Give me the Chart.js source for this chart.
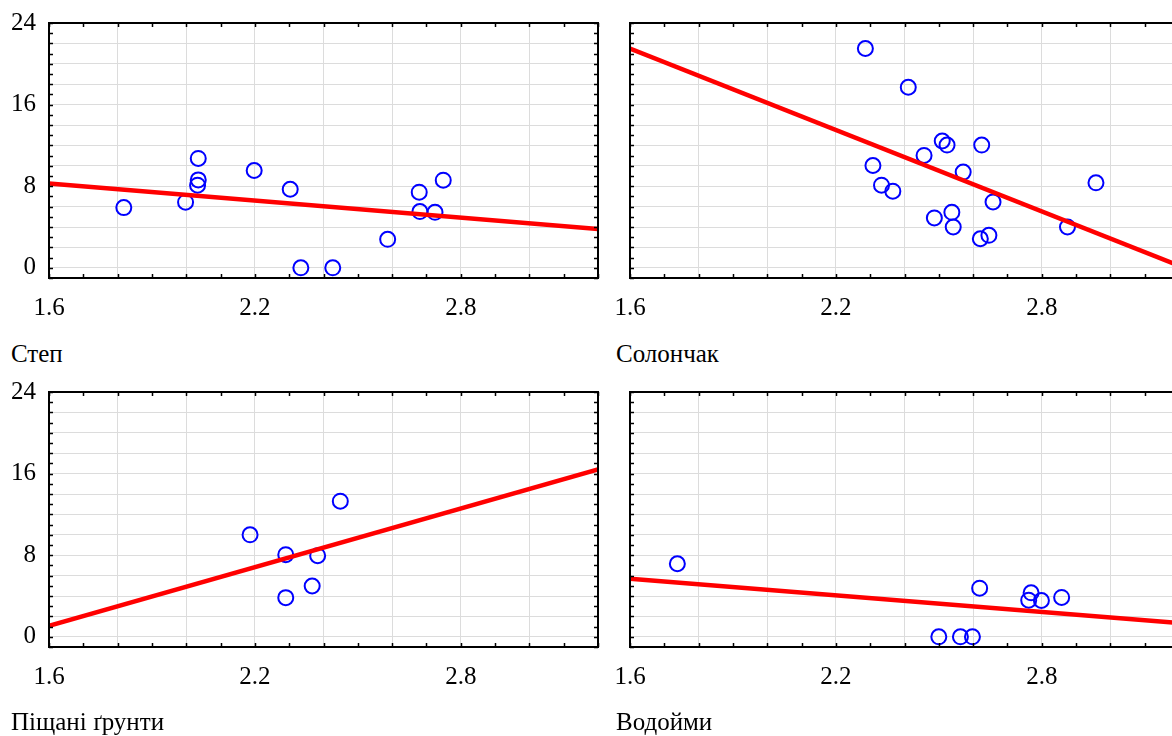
<!DOCTYPE html>
<html>
<head>
<meta charset="utf-8">
<script src="https://cdn.jsdelivr.net/npm/chart.js@4"></script>
<style>
    body { margin: 0; background: #fff; width: 1172px; height: 736px; overflow: hidden; position: relative; }
    .panel { position: absolute; width: 600px; height: 340px; }
    .panel canvas { display: block; }
    .caption { position: absolute; font-family: "Liberation Serif", serif; font-size: 25px; line-height: 25px; color: #000; white-space: nowrap; }
</style>
</head>
<body>
<div class="panel" style="left:0; top:0"><canvas id="stepChart" width="600" height="340"></canvas></div>
<div class="panel" style="left:600px; top:0"><canvas id="solonChart" width="600" height="340"></canvas></div>
<div class="panel" style="left:0; top:369px"><canvas id="sandChart" width="600" height="340"></canvas></div>
<div class="panel" style="left:600px; top:369px"><canvas id="waterChart" width="600" height="340"></canvas></div>

<div class="caption" style="left:11px; top:341px">Степ</div>
<div class="caption" style="left:616px; top:341px">Солончак</div>
<div class="caption" style="left:11px; top:709px">Піщані ґрунти</div>
<div class="caption" style="left:616px; top:709px">Водойми</div>

<script>
// дані
const stepX = [1.818, 1.998, 2.035, 2.035, 2.033, 2.198, 2.303, 2.334, 2.427, 2.587, 2.679, 2.681, 2.725, 2.749];
const stepY = [5.9, 6.43, 10.72, 8.62, 8.1, 9.54, 7.7, 0, 0, 2.79, 7.41, 5.51, 5.44, 8.59];
const stepLine = [8.26, 3.8];

const solonX = [2.286, 2.411, 2.510, 2.524, 2.625, 2.457, 2.308, 2.571, 2.333, 2.366, 2.958, 2.658, 2.538, 2.487, 2.542, 2.646, 2.621, 2.875];
const solonY = [21.5, 17.7, 12.43, 12.03, 12.03, 11.02, 10.03, 9.38, 8.1, 7.51, 8.33, 6.46, 5.44, 4.89, 4.0, 3.18, 2.85, 4.0];
const solonLine = [21.5, 0.2];

const sandX = [2.186, 2.290, 2.383, 2.449, 2.367, 2.290];
const sandY = [10.0, 8.05, 7.95, 13.3, 4.98, 3.84];
const sandLine = [1.07, 16.4];

const waterX = [1.738, 2.619, 2.769, 2.762, 2.799, 2.858, 2.500, 2.563, 2.598];
const waterY = [7.16, 4.77, 4.31, 3.59, 3.56, 3.86, 0, 0, 0];
const waterLine = [5.69, 1.35];

// кінці ліній регресії та підписи осей
const lineX = [1.6, 3.2];
const xTickLabels = [1.6, 2.2, 2.8];
const yTickLabels = [0, 8, 16, 24];

const X_MIN = 1.6, X_MAX = 3.2, Y_MIN = -1, Y_MAX = 24;
const tickFont = { family: '"Liberation Serif", serif', size: 25 };

Chart.defaults.font.family = '"Liberation Serif", serif';
Chart.defaults.font.size = 25;
Chart.defaults.color = '#000';

// сітка: x кожні 0.2, y кожні 2
const xGrid = [];
for (let i = 0; i <= 8; i++) xGrid.push(Math.round((X_MIN + i * 0.2) * 10) / 10);
const yGrid = [];
for (let v = 0; v <= Y_MAX; v += 2) yGrid.push(v);

function noPad(s) {
    s.paddingLeft = 0;
    s.paddingRight = 0;
    s.paddingTop = 0;
    s.paddingBottom = 0;
}

// рамка та внутрішні засічки з усіх боків
const frameTicks = {
    id: 'frameTicks',
    afterDraw(chart) {
        const ctx = chart.ctx;
        const a = chart.chartArea;
        const xs = chart.scales.x, ys = chart.scales.y;
        ctx.save();
        ctx.strokeStyle = '#000';
        ctx.lineWidth = 1.5;
        ctx.beginPath();
        for (let i = 0; i <= 16; i++) {
            const px = Math.round(xs.getPixelForValue(X_MIN + i * 0.1)) + 0.5;
            ctx.moveTo(px, a.bottom); ctx.lineTo(px, a.bottom - 4);
            ctx.moveTo(px, a.top); ctx.lineTo(px, a.top + 4);
        }
        for (let v = Y_MIN; v <= Y_MAX; v++) {
            const py = Math.round(ys.getPixelForValue(v)) + 0.5;
            ctx.moveTo(a.left, py); ctx.lineTo(a.left + 4, py);
            ctx.moveTo(a.right, py); ctx.lineTo(a.right - 4, py);
        }
        ctx.stroke();
        ctx.lineWidth = 2;
        ctx.strokeRect(a.left, a.top, a.right - a.left, a.bottom - a.top);
        ctx.restore();
    }
};

function makePanel(id, xs, ys, line, yLabels, leftW, rightPad) {
    const pts = xs.map((x, i) => ({ x: x, y: ys[i] }));
    const linePts = lineX.map((x, i) => ({ x: x, y: line[i] }));
    new Chart(document.getElementById(id).getContext('2d'), {
        type: 'scatter',
        data: {
            datasets: [
                {
                    type: 'line',
                    data: linePts,
                    borderColor: '#ff0000',
                    borderWidth: 4.5,
                    pointRadius: 0,
                    fill: false,
                },
                {
                    data: pts,
                    pointStyle: 'circle',
                    pointRadius: 7.5,
                    borderColor: '#0000ff',
                    backgroundColor: 'rgba(0,0,0,0)',
                    borderWidth: 2,
                },
            ],
        },
        options: {
            responsive: false,
            animation: false,
            layout: {
                autoPadding: false,
                padding: { top: 23, right: rightPad, left: 0, bottom: 0 },
            },
            plugins: {
                legend: { display: false },
                tooltip: { enabled: false },
            },
            scales: {
                x: {
                    type: 'linear',
                    min: X_MIN,
                    max: X_MAX,
                    afterBuildTicks: s => { s.ticks = xGrid.map(v => ({ value: v })); },
                    afterFit: s => { s.height = 62; noPad(s); },
                    grid: { color: '#dcdcdc', lineWidth: 1, drawTicks: false },
                    border: { display: false },
                    ticks: {
                        font: tickFont,
                        color: '#000',
                        padding: 15,
                        maxRotation: 0,
                        autoSkip: false,
                        callback: v => xTickLabels.some(t => Math.abs(t - v) < 1e-6) ? v.toFixed(1) : '',
                    },
                },
                y: {
                    type: 'linear',
                    min: Y_MIN,
                    max: Y_MAX,
                    afterBuildTicks: s => { s.ticks = yGrid.map(v => ({ value: v })); },
                    afterFit: s => { s.width = leftW; noPad(s); },
                    grid: { color: '#dcdcdc', lineWidth: 1, drawTicks: false },
                    border: { display: false },
                    ticks: {
                        display: yLabels,
                        font: tickFont,
                        color: '#000',
                        padding: 13,
                        autoSkip: false,
                        callback: v => yTickLabels.includes(v) ? String(v) : '',
                    },
                },
            },
        },
        plugins: [frameTicks],
    });
}

makePanel('stepChart', stepX, stepY, stepLine, true, 49, 2);
makePanel('solonChart', solonX, solonY, solonLine, false, 30, 21);
makePanel('sandChart', sandX, sandY, sandLine, true, 49, 2);
makePanel('waterChart', waterX, waterY, waterLine, false, 30, 21);
</script>
</body>
</html>
